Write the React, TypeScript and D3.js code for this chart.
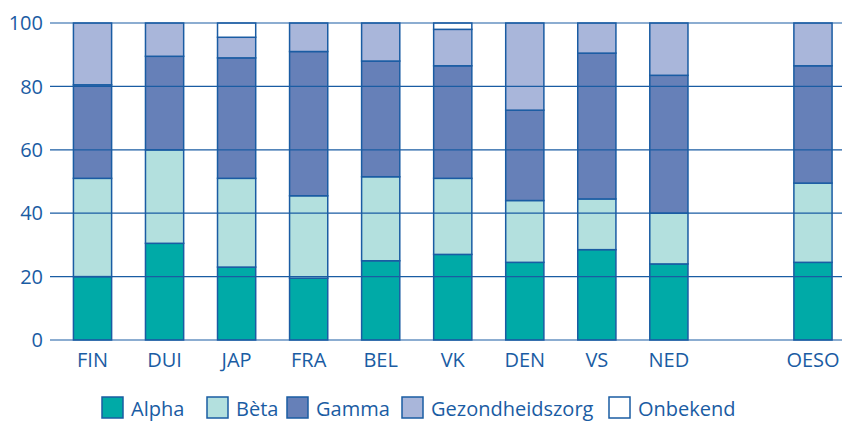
import React, { useEffect, useRef } from 'react';
import * as d3 from 'd3';

// countries (OESO sits after an empty slot)
const categories = ['FIN', 'DUI', 'JAP', 'FRA', 'BEL', 'VK', 'DEN', 'VS', 'NED', 'OESO'];
const seriesNames = ['Alpha', 'Bèta', 'Gamma', 'Gezondheidszorg', 'Onbekend'];

const alpha = [20, 30.5, 23, 19.5, 25, 27, 24.5, 28.5, 24, 24.5];
const beta = [31, 29.5, 28, 26, 26.5, 24, 19.5, 16, 16, 25];
const gamma = [29.5, 29.5, 38, 45.5, 36.5, 35.5, 28.5, 46, 43.5, 37];
const gezondheidszorg = [19.5, 10.5, 6.5, 9, 12, 11.5, 27.5, 9.5, 16.5, 13.5];
const onbekend = [0, 0, 4.5, 0, 0, 2, 0, 0, 0, 0];

const yTicks = [0, 20, 40, 60, 80, 100];

const colors = ['#00aaa7', '#b3e0de', '#6680b8', '#a9b6da', '#ffffff'];
const ink = '#1a5ca3';
const font = '"Open Sans", sans-serif';

export default function App() {
  const ref = useRef<SVGSVGElement>(null);

  useEffect(() => {
    const svg = d3.select(ref.current);
    svg.selectAll('*').remove();

    const values = [alpha, beta, gamma, gezondheidszorg, onbekend];
    const rows = categories.map((c, i) => {
      const row: any = { cat: c };
      seriesNames.forEach((s, j) => (row[s] = values[j][i]));
      return row;
    });

    const domain = [...categories.slice(0, -1), '__gap', categories[categories.length - 1]];
    const x = d3.scaleBand().domain(domain).range([56.5, 849]).paddingInner(0.47).paddingOuter(0.235);
    const y = d3.scaleLinear().domain([0, 100]).range([340, 23]);

    const stacked = d3.stack().keys(seriesNames)(rows);

    const layers = svg
      .append('g')
      .selectAll('g')
      .data(stacked)
      .join('g')
      .attr('fill', (d, i) => colors[i]);

    layers
      .selectAll('rect')
      .data((d) => d.filter((p) => p[1] - p[0] > 0))
      .join('rect')
      .attr('x', (d: any) => x(d.data.cat)!)
      .attr('width', x.bandwidth())
      .attr('y', (d) => y(d[1]))
      .attr('height', (d) => y(d[0]) - y(d[1]))
      .attr('stroke', ink)
      .attr('stroke-width', 1.5);

    // gridlines drawn over the bars
    svg
      .append('g')
      .selectAll('line')
      .data(yTicks)
      .join('line')
      .attr('x1', 50)
      .attr('x2', 842)
      .attr('y1', (d) => y(d))
      .attr('y2', (d) => y(d))
      .attr('stroke', ink)
      .attr('stroke-width', 1.2);

    svg
      .append('g')
      .selectAll('text')
      .data(yTicks)
      .join('text')
      .attr('x', 43)
      .attr('y', (d) => y(d))
      .attr('dy', '0.36em')
      .attr('text-anchor', 'end')
      .attr('font-size', 20)
      .attr('font-family', font)
      .attr('fill', ink)
      .text((d) => d);

    svg
      .append('g')
      .selectAll('text')
      .data(categories)
      .join('text')
      .attr('x', (d) => x(d)! + x.bandwidth() / 2)
      .attr('y', 367)
      .attr('text-anchor', 'middle')
      .attr('font-size', 20)
      .attr('font-family', font)
      .attr('fill', ink)
      .text((d) => d);

    // legend
    const legendX = [102, 207, 287, 402, 609];
    const legend = svg
      .append('g')
      .selectAll('g')
      .data(seriesNames)
      .join('g')
      .attr('transform', (d, i) => `translate(${legendX[i]},397)`);

    legend
      .append('rect')
      .attr('width', 21)
      .attr('height', 21)
      .attr('fill', (d, i) => colors[i])
      .attr('stroke', ink)
      .attr('stroke-width', 1.5);

    legend
      .append('text')
      .attr('x', 29)
      .attr('y', 18.5)
      .attr('font-size', 20)
      .attr('font-family', font)
      .attr('fill', ink)
      .text((d) => d);
  }, []);

  return (
    <svg
      ref={ref}
      width={842}
      height={421}
      style={{ position: 'absolute', left: 0, top: 0, background: '#fff' }}
    />
  );
}
